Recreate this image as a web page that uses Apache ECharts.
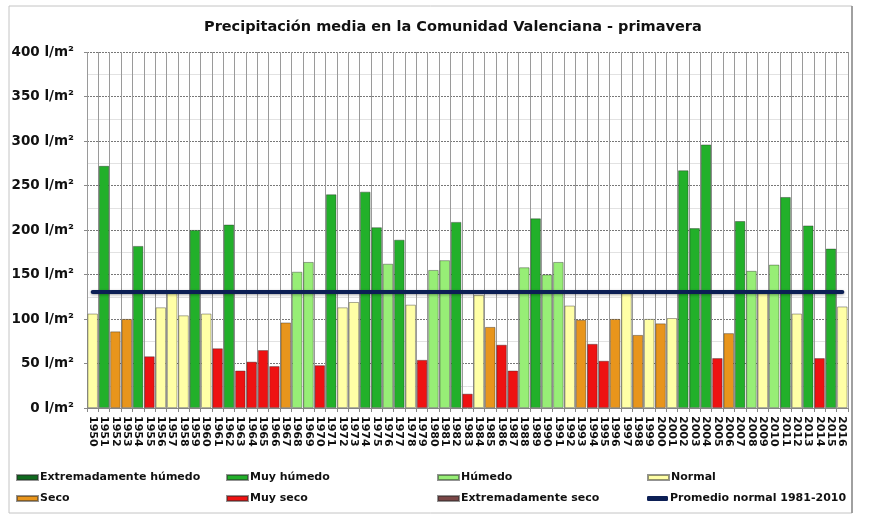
<!DOCTYPE html>
<html>
<head>
<meta charset="utf-8">
<title>Precipitación media en la Comunidad Valenciana - primavera</title>
<script src="https://cdn.jsdelivr.net/npm/echarts@6/dist/echarts.min.js"></script>
<style>
  html, body { margin: 0; padding: 0; background: #fff; }
  #grafico { width: 870px; height: 525px; }
</style>
</head>
<body>
<div id="grafico"></div>
<script>
'use strict';

// años (categorías del eje x)
var anios = ['1950','1951','1952','1953','1954','1955','1956','1957','1958','1959',
  '1960','1961','1962','1963','1964','1965','1966','1967','1968','1969',
  '1970','1971','1972','1973','1974','1975','1976','1977','1978','1979',
  '1980','1981','1982','1983','1984','1985','1986','1987','1988','1989',
  '1990','1991','1992','1993','1994','1995','1996','1997','1998','1999',
  '2000','2001','2002','2003','2004','2005','2006','2007','2008','2009',
  '2010','2011','2012','2013','2014','2015','2016'];

// precipitación de primavera, l/m²
var precipitacion = [106, 272, 86, 100, 182, 58, 113, 129, 104, 200,
  106, 67, 206, 42, 52, 65, 47, 96, 153, 164,
  48, 240, 113, 119, 243, 203, 162, 189, 116, 54,
  155, 166, 209, 16, 127, 91, 71, 42, 158, 213,
  150, 164, 115, 99, 72, 53, 100, 129, 82, 100,
  95, 101, 267, 202, 296, 56, 84, 210, 154, 129,
  161, 237, 106, 205, 56, 179, 114];

// carácter de cada año: EH, MH, H, N, S, MS, ES
var caracter = ['N','MH','S','S','MH','MS','N','N','N','MH',
  'N','MS','MH','MS','MS','MS','MS','S','H','H',
  'MS','MH','N','N','MH','MH','H','MH','N','MS',
  'H','H','MH','MS','N','S','MS','MS','H','MH',
  'H','H','N','S','MS','MS','S','N','S','N',
  'S','N','MH','MH','MH','MS','S','MH','H','N',
  'H','MH','N','MH','MS','MH','N'];

// promedio normal 1981-2010
var promedio = 131;

// tipos y colores de la leyenda
var tipos = [
  { id: 'EH', nombre: 'Extremadamente húmedo', color: '#0f6a1e' },
  { id: 'MH', nombre: 'Muy húmedo', color: '#22b02a' },
  { id: 'H',  nombre: 'Húmedo', color: '#97ee76' },
  { id: 'N',  nombre: 'Normal', color: '#ffffa6' },
  { id: 'S',  nombre: 'Seco', color: '#e8951c' },
  { id: 'MS', nombre: 'Muy seco', color: '#ee1212' },
  { id: 'ES', nombre: 'Extremadamente seco', color: '#7a4646' }
];
var nombreLinea = 'Promedio normal 1981-2010';

var fuente = '"DejaVu Sans", Verdana, sans-serif';

var series = tipos.map(function (t) {
  return {
    name: t.nombre,
    type: 'bar',
    stack: 'total',
    barCategoryGap: '9%',
    itemStyle: { color: t.color, borderColor: 'rgba(40,40,40,0.5)', borderWidth: 0.8 },
    data: precipitacion.map(function (v, i) { return caracter[i] === t.id ? v : '-'; })
  };
});

series.push({
  name: nombreLinea,
  type: 'line',
  data: [],
  itemStyle: { color: '#0c1f55' },
  markLine: {
    silent: true,
    symbol: 'none',
    label: { show: false },
    lineStyle: {
      color: '#0c1f55', width: 4, type: 'solid', cap: 'round',
      shadowBlur: 3, shadowColor: 'rgba(0,0,0,0.35)', shadowOffsetY: 1
    },
    data: [[{ coord: [anios[0], promedio] }, { coord: [anios[anios.length - 1], promedio] }]]
  }
});

// posiciones de la leyenda (4 columnas x 2 filas)
var colX = [16, 226, 437, 647];
var filaY = [472, 493];
var leyendas = tipos.concat([{ nombre: nombreLinea }]).map(function (t, i) {
  var fila = i < 4 ? 0 : 1;
  var col = i % 4;
  return {
    data: [t.nombre],
    left: colX[col],
    top: filaY[fila],
    padding: 0,
    itemWidth: 21,
    itemHeight: 5,
    icon: t.id ? 'rect' : 'roundRect',
    selectedMode: false,
    textStyle: { fontFamily: fuente, fontWeight: 'bold', fontSize: 11, color: '#111', padding: [0, 0, 0, -3] }
  };
});

var chart = echarts.init(document.getElementById('grafico'), null, { renderer: 'canvas' });

chart.setOption({
  backgroundColor: '#fff',
  animation: false,
  title: {
    text: 'Precipitación media en la Comunidad Valenciana - primavera',
    left: 204,
    top: 20,
    padding: 0,
    textStyle: { fontFamily: fuente, fontWeight: 'bold', fontSize: 14.5, color: '#111' }
  },
  legend: leyendas,
  grid: { left: 87, right: 22, top: 52, bottom: 117, containLabel: false },
  xAxis: {
    type: 'category',
    data: anios,
    axisLine: { lineStyle: { color: '#888' } },
    axisTick: { show: true, length: 4, interval: 0, lineStyle: { color: '#888' } },
    splitLine: { show: true, interval: 0, lineStyle: { color: '#9a9a9a', width: 1 } },
    axisLabel: {
      interval: 0, rotate: -90, margin: 8,
      fontFamily: fuente, fontWeight: 'bold', fontSize: 11, color: '#111'
    }
  },
  yAxis: {
    type: 'value',
    min: 0,
    max: 400,
    interval: 50,
    axisLine: { show: false },
    axisTick: { show: true, length: 3, lineStyle: { color: '#888' } },
    axisLabel: {
      formatter: '{value} l/m²', margin: 13,
      fontFamily: fuente, fontWeight: 'bold', fontSize: 13.5, color: '#111'
    },
    splitLine: { lineStyle: { color: '#777', type: [2, 1], width: 1 } },
    minorTick: { show: false, splitNumber: 2 },
    minorSplitLine: { show: true, lineStyle: { color: '#e2e2e2', width: 1 } }
  },
  graphic: [
    { type: 'rect', shape: { x: 9, y: 6, width: 843, height: 507 }, style: { fill: 'none', stroke: '#c4c4c4', lineWidth: 1 }, silent: true },
    { type: 'line', shape: { x1: 852, y1: 6, x2: 852, y2: 513 }, style: { stroke: '#8a8a8a', lineWidth: 1.5 }, silent: true }
  ],
  series: series
});
</script>
</body>
</html>
